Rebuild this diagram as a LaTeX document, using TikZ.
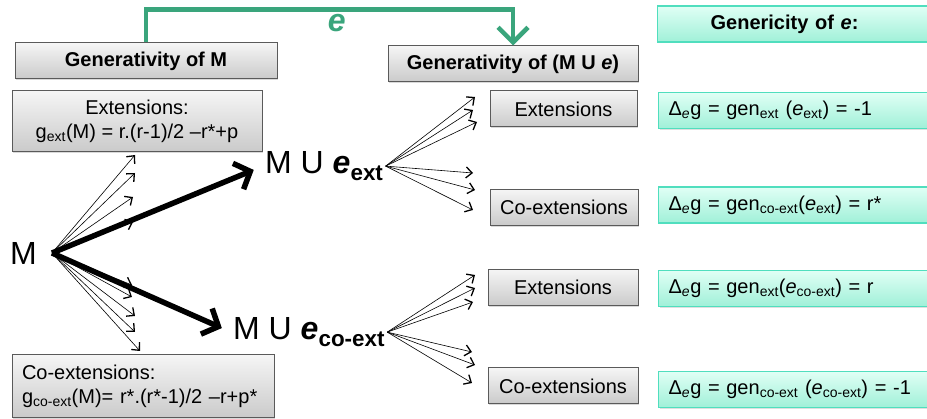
\documentclass[tikz,border=0pt]{standalone}
\usepackage{fontspec}
\setmainfont{Liberation Sans}
\usetikzlibrary{arrows.meta,shadows}

\definecolor{egreen}{RGB}{58,165,124}
\definecolor{tealline}{RGB}{80,222,190}
\definecolor{tealtop}{RGB}{224,255,245}
\definecolor{tealbot}{RGB}{160,240,216}
\definecolor{greytop}{RGB}{245,245,245}
\definecolor{greybot}{RGB}{202,202,202}
\definecolor{greyline}{RGB}{90,90,90}

\begin{document}
\begin{tikzpicture}[%
        x = 1pt, y = -1pt,
        greybox/.style = {draw=greyline, line width=1pt, top color=greytop, bottom color=greybot,
            drop shadow={shadow xshift=1pt, shadow yshift=-1.5pt, opacity=0.3},
            minimum height=36pt, inner xsep=10pt, font=\fontsize{20}{24}\selectfont},
        tealbox/.style = {draw=tealline, line width=1.2pt, top color=tealtop, bottom color=tealbot,
            drop shadow={shadow xshift=1pt, shadow yshift=-1.5pt, opacity=0.25},
            anchor=west, minimum height=36pt, text width=270pt, align=left, inner xsep=10pt,
            font=\fontsize{20}{24}\selectfont},
        bigtxt/.style = {font=\fontsize{32}{36}\selectfont},
        fan/.style = {-{Straight Barb[length=6pt,width=11pt,line width=1.3pt]}, line width=0.6pt},
        thickarr/.style = {-{Straight Barb[length=13pt,width=28pt]}, line width=5.5pt, shorten >=10pt}
    ]
      \useasboundingbox (0,0) rectangle (927,419);
      \clip (0,0) rectangle (927,419);
      % left column
      \node[greybox, minimum width=262pt] (genM) at (146,61) {\textbf{Generativity of M}};
      \node[greybox, minimum width=250pt, minimum height=61pt, align=center] (extM) at (137,121.5)
        {Extensions:\\g\textsubscript{ext}(M) = r.(r-1)/2 –r*+p};
      \node[greybox, text width=242pt, minimum height=63pt, align=left] (coM) at (143,386.5)
        {Co-extensions:\\g\textsubscript{co-ext}(M)= r*.(r*-1)/2 –r+p*};
      \node[bigtxt, anchor=east, inner xsep=15pt] (M) at (52,253) {M};
      \node[bigtxt, anchor=base west, inner xsep=2pt] (Mext) at (263,174)
        {M U \textbf{\textit{e}}\textsubscript{\textbf{ext}}};
      \node[bigtxt, anchor=base west, inner xsep=2pt] (Mco) at (231,340)
        {M U \textbf{\textit{e}}\textsubscript{\textbf{co-ext}}};
      % middle column
      \node[greybox, minimum width=250pt] (genMe) at (513,64) {\textbf{Generativity of (M U \textit{e})}};
      \node[greybox, minimum width=147pt] (ext1) at (563.5,109) {Extensions};
      \node[greybox, minimum width=148pt] (coext1) at (564,207.5) {Co-extensions};
      \node[greybox, minimum width=150pt] (ext2) at (563,287.5) {Extensions};
      \node[greybox, minimum width=150pt] (coext2) at (563,386) {Co-extensions};
      % right column
      \node[tealbox] (genE) at (657,24) {\hspace*{43pt}\textbf{Genericity of \textit{e}:}};
      \node[tealbox] (gen1) at (658,110.5)
        {Δ\textsubscript{\textit{e}}g = gen\textsubscript{ext} (\textit{e}\textsubscript{ext}) = -1};
      \node[tealbox] (gen2) at (658,205)
        {Δ\textsubscript{\textit{e}}g = gen\textsubscript{co-ext}(\textit{e}\textsubscript{ext}) = r*};
      \node[tealbox] (gen3) at (658,288.5)
        {Δ\textsubscript{\textit{e}}g = gen\textsubscript{ext}(\textit{e}\textsubscript{co-ext}) = r};
      \node[tealbox] (gen4) at (658,389.5)
        {Δ\textsubscript{\textit{e}}g = gen\textsubscript{co-ext} (\textit{e}\textsubscript{co-ext}) = -1};
      % fans
      \foreach \x/\y [count=\i] in {135/155, 135/173, 133/197, 133/222,
                                     132/285, 132/297, 135/316, 135/332, 140/351} {
        \coordinate (m\i) at (\x,\y);
        \draw[fan] (M.east) -- (m\i);
      }
      \foreach \x/\y [count=\i] in {475/97, 473/110, 477/122, 473/173, 475/190, 473/210} {
        \coordinate (a\i) at (\x,\y);
        \draw[fan] (Mext.east) -- (a\i);
      }
      \foreach \x/\y [count=\i] in {475/275, 475/288, 473/302, 472/352, 475/365, 472/383} {
        \coordinate (b\i) at (\x,\y);
        \draw[fan] (Mco.east) -- (b\i);
      }
      \draw[thickarr] (M.east) -- (Mext.west);
      \draw[thickarr] (M.east) -- (Mco.west);
      % added element e
      \draw[egreen, line width=4.5pt, -{Straight Barb[length=15pt,width=30pt]}]
        (genM.north) -- ++(0,-33)
        -| node[pos=0.26, below=2pt, inner sep=1pt, font=\fontsize{32}{36}\selectfont\bfseries\itshape] (elabel) {e}
        (genMe.north);
    \end{tikzpicture}
\end{document}
